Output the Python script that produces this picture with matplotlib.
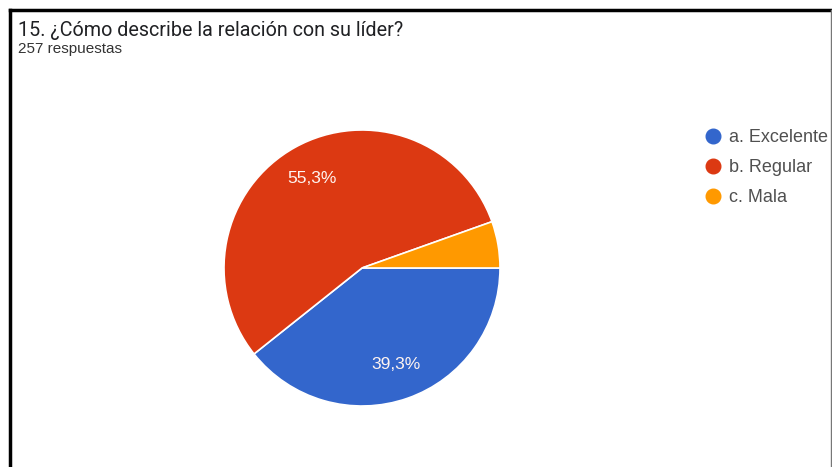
import matplotlib
matplotlib.use('Agg')
import matplotlib.pyplot as plt
from matplotlib.lines import Line2D

# Survey results
pregunta = '15. ¿Cómo describe la relación con su líder?'
total_respuestas = 257
categorias = ['a. Excelente', 'b. Regular', 'c. Mala']
respuestas = [101, 142, 14]
colores = ['#3366CC', '#DC3912', '#FF9900']

plt.rcParams['font.family'] = ['Liberation Sans', 'DejaVu Sans']

W, H = 832, 467
fig = plt.figure(figsize=(W / 100, H / 100), dpi=100)
fig.patch.set_facecolor('white')

# pie axes placed in pixel units
cx, cy, r = 362, 268, 138
ax = fig.add_axes([(cx - r) / W, 1 - (cy + r) / H, 2 * r / W, 2 * r / H])


def etiqueta(pct):
    if pct < 10:
        return ''
    return f'{pct:.1f}%'.replace('.', ',')


wedges, textos, autotextos = ax.pie(
    respuestas, colors=colores, startangle=0, counterclock=False,
    autopct=etiqueta, pctdistance=0.74,
    wedgeprops=dict(edgecolor='white', linewidth=1.2),
    textprops=dict(color='#fff4f0', fontsize=12.5))
ax.set_xlim(-1, 1)
ax.set_ylim(-1, 1)
ax.set_aspect('equal')
ax.axis('off')

# title and response count
fig.text(18 / W, 1 - 30 / H, pregunta, fontsize=14.2, color='#202124',
         va='center', family=['Roboto', 'DejaVu Sans'])
fig.text(18 / W, 1 - 49 / H, f'{total_respuestas} respuestas', fontsize=11,
         color='#333333', va='center')

# legend (the long label runs off the right edge of the capture)
handles = [Line2D([], [], marker='o', linestyle='', markersize=10.5,
                  markerfacecolor=c, markeredgecolor=c) for c in colores]
fig.legend(handles, categorias, loc='upper left',
           bbox_to_anchor=(703 / W, 1 - 129 / H), frameon=False,
           fontsize=13, labelcolor='#505050', handletextpad=0.35,
           labelspacing=0.73, borderpad=0, borderaxespad=0, handlelength=1.1)

# frame around the capture
fig.add_artist(Line2D([10 / W, 10 / W], [0, 1 - 10 / H], color='black', lw=2.5,
                      transform=fig.transFigure))
fig.add_artist(Line2D([10 / W, 1], [1 - 10 / H, 1 - 10 / H], color='black', lw=2.5,
                      transform=fig.transFigure))
fig.add_artist(Line2D([830.5 / W, 830.5 / W], [0, 1 - 10 / H], color='#777777', lw=1,
                      transform=fig.transFigure))

fig.savefig('out.png', dpi=100)
